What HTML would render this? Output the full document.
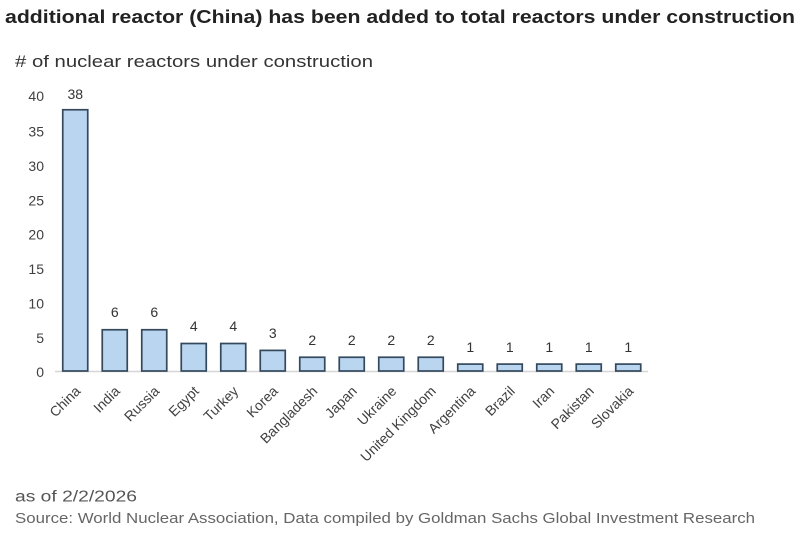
<!DOCTYPE html>
<html>
<head>
<meta charset="utf-8">
<style>
  html, body { margin: 0; padding: 0; background: #ffffff; }
  svg { display: block; }
  text { font-family: "Liberation Sans", Arial, sans-serif; }
</style>
</head>
<body>
<svg width="800" height="538" viewBox="0 0 800 538" xmlns="http://www.w3.org/2000/svg">
  <rect x="0" y="0" width="800" height="538" fill="#ffffff"/>

  <!-- Title -->
  <text x="5" y="23" font-size="18.5" font-weight="bold" fill="#222222" textLength="790" lengthAdjust="spacingAndGlyphs">additional reactor (China) has been added to total reactors under construction</text>

  <!-- Subtitle -->
  <text x="15" y="67" font-size="16.5" fill="#333333" textLength="358" lengthAdjust="spacingAndGlyphs"># of nuclear reactors under construction</text>

  <!-- Y tick labels -->
  <g font-size="14" fill="#404040" text-anchor="end">
    <text x="44" y="101">40</text>
    <text x="44" y="136.6">35</text>
    <text x="44" y="171">30</text>
    <text x="44" y="205.3">25</text>
    <text x="44" y="239.7">20</text>
    <text x="44" y="274">15</text>
    <text x="44" y="308.5">10</text>
    <text x="44" y="343">5</text>
    <text x="44" y="377">0</text>
  </g>

  <!-- Axis line -->
  <line x1="55" y1="371.5" x2="648" y2="371.5" stroke="#d6d6d6" stroke-width="1.5"/>

  <!-- Bars -->
  <g fill="#b9d5f0" stroke="#34495c" stroke-width="1.7">
    <rect x="62.75" y="109.75" width="25" height="261.25"/>
    <rect x="102.25" y="329.75" width="25" height="41.25"/>
    <rect x="141.75" y="329.75" width="25" height="41.25"/>
    <rect x="181.25" y="343.5" width="25" height="27.5"/>
    <rect x="220.75" y="343.5" width="25" height="27.5"/>
    <rect x="260.25" y="350.4" width="25" height="20.6"/>
    <rect x="299.75" y="357.25" width="25" height="13.75"/>
    <rect x="339.25" y="357.25" width="25" height="13.75"/>
    <rect x="378.75" y="357.25" width="25" height="13.75"/>
    <rect x="418.25" y="357.25" width="25" height="13.75"/>
    <rect x="457.75" y="364.1" width="25" height="6.9"/>
    <rect x="497.25" y="364.1" width="25" height="6.9"/>
    <rect x="536.75" y="364.1" width="25" height="6.9"/>
    <rect x="576.25" y="364.1" width="25" height="6.9"/>
    <rect x="615.75" y="364.1" width="25" height="6.9"/>
  </g>

  <!-- Value labels -->
  <g font-size="14" fill="#333333" text-anchor="middle">
    <text x="75.25" y="99">38</text>
    <text x="114.75" y="317">6</text>
    <text x="154.25" y="317">6</text>
    <text x="193.75" y="331">4</text>
    <text x="233.25" y="331">4</text>
    <text x="272.75" y="338">3</text>
    <text x="312.25" y="345">2</text>
    <text x="351.75" y="345">2</text>
    <text x="391.25" y="345">2</text>
    <text x="430.75" y="345">2</text>
    <text x="470.25" y="352">1</text>
    <text x="509.75" y="352">1</text>
    <text x="549.25" y="352">1</text>
    <text x="588.75" y="352">1</text>
    <text x="628.25" y="352">1</text>
  </g>

  <!-- Category labels -->
  <g font-size="14" fill="#404040" text-anchor="end">
    <text transform="translate(81.25,392) rotate(-45)">China</text>
    <text transform="translate(120.75,392) rotate(-45)">India</text>
    <text transform="translate(160.25,392) rotate(-45)">Russia</text>
    <text transform="translate(199.75,392) rotate(-45)">Egypt</text>
    <text transform="translate(239.25,392) rotate(-45)">Turkey</text>
    <text transform="translate(278.75,392) rotate(-45)">Korea</text>
    <text transform="translate(318.25,392) rotate(-45)">Bangladesh</text>
    <text transform="translate(357.75,392) rotate(-45)">Japan</text>
    <text transform="translate(397.25,392) rotate(-45)">Ukraine</text>
    <text transform="translate(436.75,392) rotate(-45)">United Kingdom</text>
    <text transform="translate(476.25,392) rotate(-45)">Argentina</text>
    <text transform="translate(515.75,392) rotate(-45)">Brazil</text>
    <text transform="translate(555.25,392) rotate(-45)">Iran</text>
    <text transform="translate(594.75,392) rotate(-45)">Pakistan</text>
    <text transform="translate(634.25,392) rotate(-45)">Slovakia</text>
  </g>

  <!-- Footer -->
  <text x="15" y="501.5" font-size="15.5" fill="#555555" textLength="122" lengthAdjust="spacingAndGlyphs">as of 2/2/2026</text>
  <text x="15" y="523" font-size="14.5" fill="#666666" textLength="740" lengthAdjust="spacingAndGlyphs">Source: World Nuclear Association, Data compiled by Goldman Sachs Global Investment Research</text>
</svg>
</body>
</html>
